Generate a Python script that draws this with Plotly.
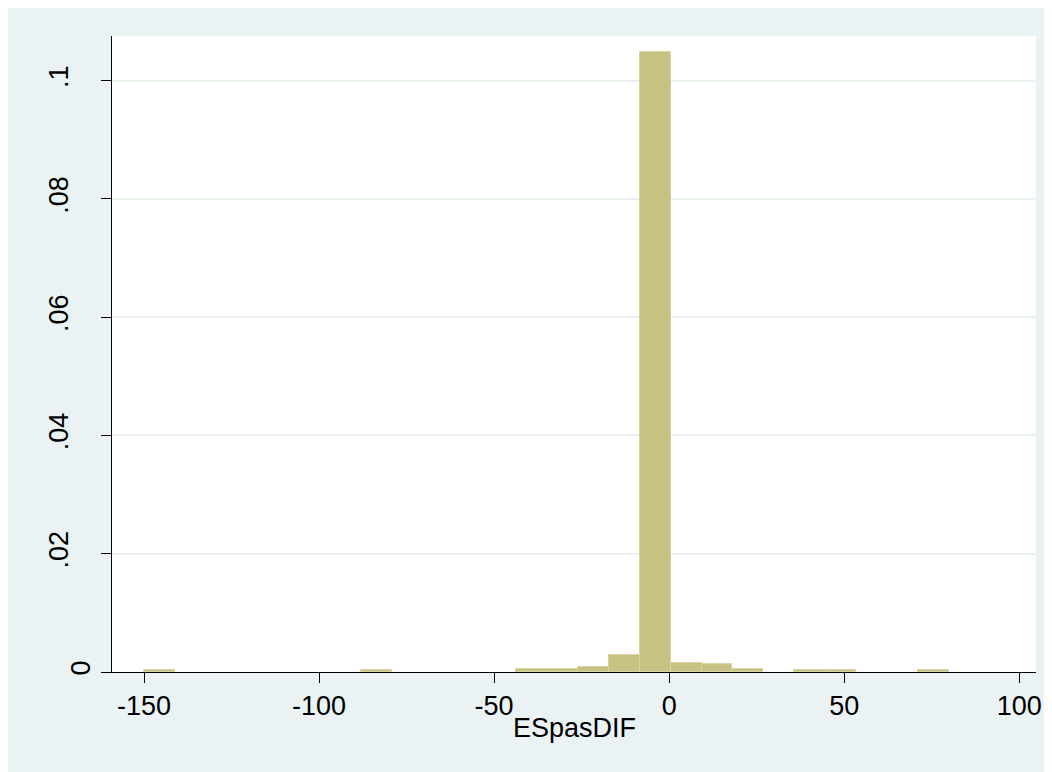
import plotly.graph_objects as go

# ---- data ----
bin_start = -150.0
bin_end = 80.0
n_bins = 26
density = [0.000283, 0, 0, 0, 0, 0, 0, 0.000283, 0, 0, 0, 0,
           0.000565, 0.000565, 0.00085, 0.00287, 0.1048, 0.00157,
           0.0014, 0.00055, 0, 0.000283, 0.000283, 0, 0, 0.000283]
x_ticks = [-150, -100, -50, 0, 50, 100]
x_tick_labels = ["-150", "-100", "-50", "0", "50", "100"]
y_ticks = [0, 0.02, 0.04, 0.06, 0.08, 0.1]
y_tick_labels = ["0", ".02", ".04", ".06", ".08", ".1"]
x_title = "ESpasDIF"

bw = (bin_end - bin_start) / n_bins
xs, ys = [], []
for i, d in enumerate(density):
    if d > 0:
        xs.append(bin_start + (i + 0.5) * bw)
        ys.append(d)

BG = "#EAF2F3"
FONT = "Liberation Sans, Arial, sans-serif"
YR = [0, 0.10756]

fig = go.Figure()
fig.add_trace(go.Bar(
    x=xs, y=ys, width=bw,
    marker=dict(color="#C8C282", line=dict(color="#D8D3A6", width=1)),
    hoverinfo="x+y",
))

# "0" sits close to the axis, the other labels further out (as in the reference)
zero_text = [t if v == 0 else "" for v, t in zip(y_ticks, y_tick_labels)]
rest_vals = [v for v in y_ticks if v != 0]
rest_text = [t for v, t in zip(y_ticks, y_tick_labels) if v != 0]

fig.add_trace(go.Scatter(x=[0], y=[0.05], yaxis="y2", mode="markers",
                         marker=dict(opacity=0), showlegend=False,
                         hoverinfo="skip"))

fig.update_layout(
    width=1052, height=772,
    margin=dict(l=104, r=24, t=28, b=108, pad=0),
    paper_bgcolor=BG,
    plot_bgcolor="white",
    showlegend=False,
    bargap=0,
    font=dict(family=FONT, size=27, color="black"),
    xaxis=dict(
        range=[-159.14, 104.77],
        tickmode="array", tickvals=x_ticks, ticktext=x_tick_labels,
        ticks="outside", ticklen=10, tickwidth=1, tickcolor="black",
        showline=True, linecolor="black", linewidth=1,
        showgrid=False, zeroline=False,
        tickfont=dict(family=FONT, size=27, color="black"),
    ),
    yaxis=dict(
        range=YR,
        tickmode="array", tickvals=y_ticks, ticktext=zero_text,
        tickangle=-90,
        ticks="outside", ticklen=10, tickwidth=1, tickcolor="black",
        showline=True, linecolor="black", linewidth=1,
        showgrid=True, gridcolor=BG, gridwidth=1.5,
        zeroline=False,
        tickfont=dict(family=FONT, size=27, color="black"),
    ),
    yaxis2=dict(
        range=YR, overlaying="y", side="left", anchor="x",
        tickmode="array", tickvals=rest_vals, ticktext=rest_text,
        tickangle=-90,
        ticks="outside", ticklen=32, tickwidth=1, tickcolor="rgba(0,0,0,0)",
        showline=False, showgrid=False, zeroline=False,
        tickfont=dict(family=FONT, size=27, color="black"),
    ),
    annotations=[dict(
        text=x_title, xref="paper", yref="paper",
        x=0.5, y=-0.062, xanchor="center", yanchor="top",
        showarrow=False, font=dict(family=FONT, size=27, color="black"),
    )],
)

fig.write_html("out.html")
